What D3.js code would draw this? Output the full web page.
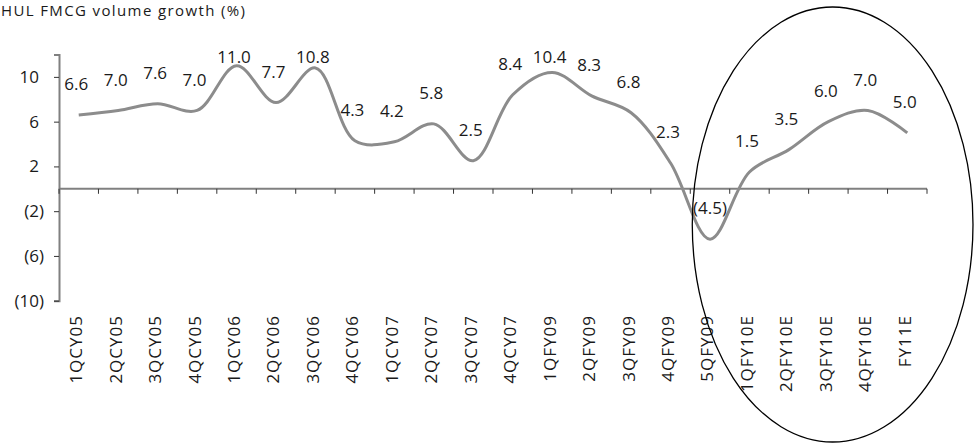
<!DOCTYPE html>
<html>
<head>
<meta charset="utf-8">
<script src="https://cdn.jsdelivr.net/npm/d3@7"></script>
<style>
  html, body { margin: 0; padding: 0; background: #fff; }
  svg { display: block; font-family: "Open Sans", "Noto Sans", sans-serif; }
</style>
</head>
<body>
<svg id="chart" width="980" height="443"></svg>
<script>
const title = "HUL FMCG volume growth (%)";
const categories = ["1QCY05","2QCY05","3QCY05","4QCY05","1QCY06","2QCY06","3QCY06","4QCY06",
  "1QCY07","2QCY07","3QCY07","4QCY07","1QFY09","2QFY09","3QFY09","4QFY09","5QFY09",
  "1QFY10E","2QFY10E","3QFY10E","4QFY10E","FY11E"];
const values = [6.6, 7.0, 7.6, 7.0, 11.0, 7.7, 10.8, 4.3, 4.2, 5.8, 2.5, 8.4, 10.4, 8.3, 6.8, 2.3, -4.5,
  1.5, 3.5, 6.0, 7.0, 5.0];
const yTickValues = [10, 6, 2, -2, -6, -10];
const yDomain = [-10, 12];
const highlightFrom = "5QFY09";

const svg = d3.select("#chart");
const pLeft = 59, pRight = 927, pTop = 54.5, pBottom = 300.7;
const textColor = "#1a1a1a";

const x = d3.scaleBand().domain(categories).range([pLeft, pRight]).padding(0);
const y = d3.scaleLinear().domain(yDomain).range([pBottom, pTop]);
const cx = c => x(c) + x.bandwidth() / 2;

const fmtTick = v => v < 0 ? `(${-v})` : `${v}`;
const fmtLabel = v => v < 0 ? `(${Math.abs(v).toFixed(1)})` : v.toFixed(1);

// Title
svg.append("text")
  .attr("x", 1).attr("y", 16)
  .attr("font-size", 15)
  .attr("fill", textColor)
  .attr("textLength", 244).attr("lengthAdjust", "spacing")
  .text(title);

// Y axis
const yAxis = d3.axisLeft(y).tickValues(yTickValues).tickFormat(fmtTick).tickSize(5).tickPadding(10);
const gy = svg.append("g").attr("transform", `translate(${pLeft},0)`).call(yAxis);
gy.select(".domain").attr("stroke", "#808080").attr("stroke-width", 2);
gy.selectAll(".tick line").attr("stroke", "#333").attr("stroke-width", 1);
gy.selectAll(".tick text")
  .attr("font-size", 17).attr("fill", textColor)
  .attr("font-family", "Open Sans, sans-serif")
  .attr("dx", d => d >= 0 ? "-0.296em" : 0);

// Zero line with boundary ticks
const y0 = y(0);
svg.append("line")
  .attr("x1", pLeft).attr("x2", pRight).attr("y1", y0).attr("y2", y0)
  .attr("stroke", "#808080").attr("stroke-width", 2);
const bounds = categories.map(c => x(c)).concat([pRight]);
svg.append("g").selectAll("line").data(bounds).join("line")
  .attr("x1", d => d).attr("x2", d => d)
  .attr("y1", y0).attr("y2", y0 + 5)
  .attr("stroke", "#333").attr("stroke-width", 1);

// Category labels (rotated)
svg.append("g").selectAll("text").data(categories).join("text")
  .attr("transform", c => `translate(${cx(c) - 2.5},315) rotate(-90)`)
  .attr("text-anchor", "end")
  .attr("dy", "0.35em")
  .attr("font-size", 17)
  .attr("letter-spacing", 1)
  .attr("fill", textColor)
  .text(c => c);

// Line
const data = categories.map((c, i) => ({ c, v: values[i] }));
const line = d3.line().x(d => cx(d.c)).y(d => y(d.v)).curve(d3.curveCatmullRom.alpha(0.5));
svg.append("path").datum(data)
  .attr("d", line)
  .attr("fill", "none")
  .attr("stroke", "#8c8c8c")
  .attr("stroke-width", 3)
  .attr("stroke-linejoin", "round");

// Data labels
svg.append("g").selectAll("text").data(data).join("text")
  .attr("x", d => cx(d.c))
  .attr("y", d => Math.max(y(d.v) - 31, 56.5))
  .attr("dy", "0.36em")
  .attr("dx", d => d.v >= 0 ? "-0.148em" : 0)
  .attr("text-anchor", "middle")
  .attr("font-size", 17)
  .attr("fill", textColor)
  .text(d => fmtLabel(d.v));

// Highlight ellipse around the forecast period
const eLeft = x(highlightFrom) + 2, eRight = 973;
svg.append("ellipse")
  .attr("cx", (eLeft + eRight) / 2)
  .attr("cy", 224.5)
  .attr("rx", (eRight - eLeft) / 2)
  .attr("ry", 217.5)
  .attr("fill", "none")
  .attr("stroke", "#000")
  .attr("stroke-width", 1.3);
</script>
</body>
</html>
